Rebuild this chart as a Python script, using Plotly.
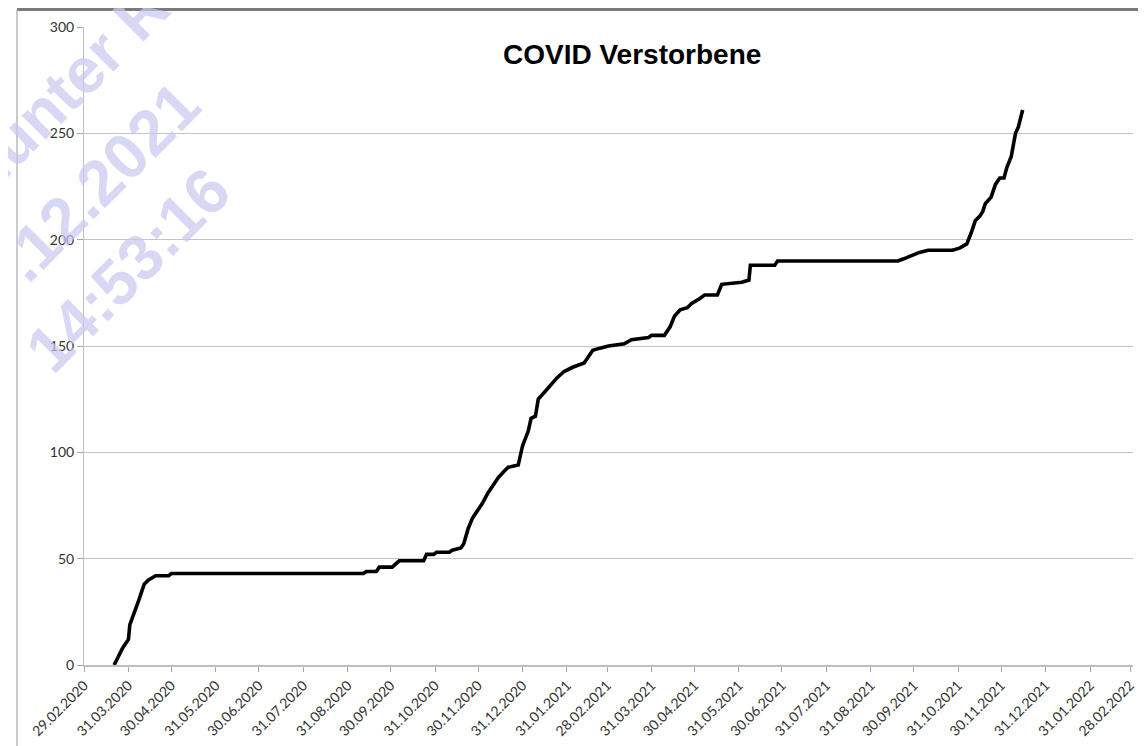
import plotly.graph_objects as go

# ---- data ----
dates = [
    "2020-03-21", "2020-03-24", "2020-03-27", "2020-03-30", "2020-03-31", "2020-04-01",
    "2020-04-04", "2020-04-07", "2020-04-09", "2020-04-11", "2020-04-14", "2020-04-19",
    "2020-04-28", "2020-04-30", "2020-09-11", "2020-09-13", "2020-09-20", "2020-09-22",
    "2020-10-01", "2020-10-04", "2020-10-06", "2020-10-23", "2020-10-25", "2020-10-30",
    "2020-11-01", "2020-11-10", "2020-11-12", "2020-11-18", "2020-11-20", "2020-11-23",
    "2020-11-26", "2020-11-29", "2020-12-03", "2020-12-07", "2020-12-10", "2020-12-14",
    "2020-12-18", "2020-12-21", "2020-12-28", "2020-12-31", "2021-01-04", "2021-01-06",
    "2021-01-09", "2021-01-11", "2021-01-15", "2021-01-19", "2021-01-24", "2021-01-29",
    "2021-02-04", "2021-02-12", "2021-02-15", "2021-02-18", "2021-02-23", "2021-03-01",
    "2021-03-12", "2021-03-17", "2021-03-29", "2021-03-31", "2021-04-09", "2021-04-13",
    "2021-04-16", "2021-04-20", "2021-04-25", "2021-04-28", "2021-05-03", "2021-05-07",
    "2021-05-16", "2021-05-19", "2021-06-02", "2021-06-07", "2021-06-08", "2021-06-25",
    "2021-06-27", "2021-09-19", "2021-09-23", "2021-09-27", "2021-10-04", "2021-10-10",
    "2021-10-27", "2021-11-01", "2021-11-06", "2021-11-09", "2021-11-12", "2021-11-15",
    "2021-11-17", "2021-11-19", "2021-11-23", "2021-11-26", "2021-11-29", "2021-12-02",
    "2021-12-04", "2021-12-07", "2021-12-09", "2021-12-10", "2021-12-12", "2021-12-14",
    "2021-12-15",
]
deaths = [
    0, 4, 8, 11, 12, 19,
    24, 30, 34, 38, 40, 42,
    42, 43, 43, 44, 44, 46,
    46, 48, 49, 49, 52, 52,
    53, 53, 54, 55, 57, 64,
    69, 72, 76, 81, 84, 88,
    91, 93, 94, 103, 110, 116,
    117, 125, 128, 131, 135, 138,
    140, 142, 145, 148, 149, 150,
    151, 153, 154, 155, 155, 159,
    164, 167, 168, 170, 172, 174,
    174, 179, 180, 181, 188, 188,
    190, 190, 191, 192, 194, 195,
    195, 196, 198, 203, 209, 211,
    213, 217, 220, 226, 229, 229,
    234, 239, 248, 250, 253, 258,
    261,
]

tick_dates = [
    "2020-02-29", "2020-03-31", "2020-04-30", "2020-05-31", "2020-06-30", "2020-07-31",
    "2020-08-31", "2020-09-30", "2020-10-31", "2020-11-30", "2020-12-31", "2021-01-31",
    "2021-02-28", "2021-03-31", "2021-04-30", "2021-05-31", "2021-06-30", "2021-07-31",
    "2021-08-31", "2021-09-30", "2021-10-31", "2021-11-30", "2021-12-31", "2022-01-31",
    "2022-02-28",
]
tick_labels = [
    "29.02.2020", "31.03.2020", "30.04.2020", "31.05.2020", "30.06.2020", "31.07.2020",
    "31.08.2020", "30.09.2020", "31.10.2020", "30.11.2020", "31.12.2020", "31.01.2021",
    "28.02.2021", "31.03.2021", "30.04.2021", "31.05.2021", "30.06.2021", "31.07.2021",
    "31.08.2021", "30.09.2021", "31.10.2021", "30.11.2021", "31.12.2021", "31.01.2022",
    "28.02.2022",
]
y_ticks = [0, 50, 100, 150, 200, 250, 300]

title_text = "COVID Verstorbene"
watermark_lines = ["Hunter R", ".12.2021", "14:53:16"]

# ---- figure (page body has an 8px margin, so the figure sits at (8, 8)) ----
OFF = 8
W, H = 1146 - OFF, 746 - OFF
L, R, T, B = 84 - OFF, 13, 27 - OFF, 81
pw, ph = W - L - R, H - T - B


def px_x(px):
    return (px - OFF - L) / pw


def px_y(py):
    return (OFF + H - B - py) / ph


fig = go.Figure()
fig.add_trace(go.Scatter(
    x=dates, y=deaths, mode="lines",
    line=dict(color="black", width=3.6),
    hoverinfo="x+y", showlegend=False,
))

axis_font = dict(family="Lato, Carlito, 'DejaVu Sans', sans-serif", size=14, color="#333333")

fig.update_layout(
    width=W, height=H,
    margin=dict(l=L, r=R, t=T, b=B, autoexpand=False),
    paper_bgcolor="white", plot_bgcolor="white",
    showlegend=False,
    xaxis=dict(
        type="date", automargin=False,
        range=["2020-02-29", "2022-03-02"],
        tickmode="array", tickvals=tick_dates, ticktext=tick_labels,
        tickangle=-45, tickfont=axis_font,
        ticks="outside", ticklen=5, tickcolor="#a6a6a6",
        showline=True, linecolor="#bfbfbf", linewidth=1.5,
        showgrid=False, zeroline=False,
    ),
    yaxis=dict(
        range=[0, 300], automargin=False,
        tickmode="array", tickvals=y_ticks,
        tickfont=axis_font,
        ticks="outside", ticklen=6, tickcolor="#a6a6a6",
        showline=True, linecolor="#bfbfbf", linewidth=1,
        showgrid=True, gridcolor="#c4c4c4", gridwidth=1,
        zeroline=False,
    ),
)

# title
fig.add_annotation(
    text=f"<b>{title_text}</b>", xref="paper", yref="paper",
    x=px_x(632), y=px_y(54), xanchor="center", yanchor="middle",
    showarrow=False,
    font=dict(family="Liberation Sans, Arial, sans-serif", size=28, color="black"),
)

# screenshot frame
fig.add_shape(type="line", xref="paper", yref="paper",
              x0=px_x(17), x1=px_x(1150), y0=px_y(9.5), y1=px_y(9.5),
              line=dict(color="#7a7a7a", width=3))
fig.add_shape(type="line", xref="paper", yref="paper",
              x0=px_x(17), x1=px_x(17), y0=px_y(9.5), y1=px_y(750),
              line=dict(color="#a8a8a8", width=1.2))

# watermark
wm_pos = [(62, 92), (100, 182), (128, 270)]
for txt, (cx, cy) in zip(watermark_lines, wm_pos):
    fig.add_annotation(
        text=f"<b>{txt}</b>", xref="paper", yref="paper",
        x=px_x(cx), y=px_y(cy), xanchor="center", yanchor="middle",
        showarrow=False, textangle=-45,
        font=dict(family="Liberation Sans, Arial, sans-serif", size=64,
                  color="rgba(200,200,240,0.7)"),
    )

fig.write_html("out.html")
